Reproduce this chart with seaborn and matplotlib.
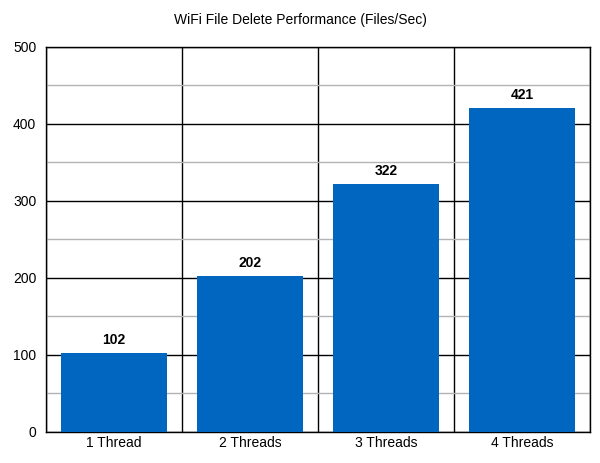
import matplotlib
matplotlib.use("Agg")
import matplotlib.pyplot as plt
import seaborn as sns
import numpy as np
from matplotlib.ticker import MultipleLocator, FixedLocator

categories = ["1 Thread", "2 Threads", "3 Threads", "4 Threads"]
files_per_sec = [102, 202, 322, 421]

sns.set_style("white")
plt.rcParams['font.family'] = ['Liberation Sans', 'DejaVu Sans']

fig = plt.figure(figsize=(6, 4.63), dpi=100)
ax = fig.add_axes([0.0767, 0.067, 0.9066, 0.8315])

sns.barplot(x=categories, y=files_per_sec, color="#0066c0", saturation=1,
            width=0.78, ax=ax, zorder=3, edgecolor="none", linewidth=0)

ax.set_ylim(0, 500)
ax.set_xlim(-0.5, len(categories) - 0.5)

# grid lines
ax.yaxis.set_major_locator(MultipleLocator(100))
ax.yaxis.set_minor_locator(MultipleLocator(50))
ax.xaxis.set_minor_locator(FixedLocator(np.arange(-0.5, len(categories), 1.0)))
ax.grid(which="major", axis="y", color="black", linewidth=1.0, zorder=0)
ax.grid(which="minor", axis="y", color="#b3b3b3", linewidth=1.0, zorder=0)
ax.grid(which="minor", axis="x", color="black", linewidth=1.0, zorder=0)
ax.set_axisbelow(True)

ax.tick_params(axis="y", which="major", length=5, width=1, color="black",
               labelsize=10, pad=2, labelcolor="black")
ax.tick_params(axis="y", which="minor", length=3, width=1, color="#b3b3b3")
ax.tick_params(axis="x", which="major", length=0, labelsize=10, pad=3,
               labelcolor="black")
ax.tick_params(axis="x", which="minor", length=5, width=1, color="black")
ax.set_xlabel("")
ax.set_ylabel("")

for s in ax.spines.values():
    s.set_color("black")
    s.set_linewidth(1.0)

for i, v in enumerate(files_per_sec):
    ax.text(i, v + 8, str(v), ha="center", va="bottom", fontsize=10,
            fontweight="bold", color="black", zorder=4)

fig.text(0.5, 0.957, "WiFi File Delete Performance (Files/Sec)", ha="center",
         va="center", fontsize=10, color="black")

fig.savefig("out.png", dpi=100)
